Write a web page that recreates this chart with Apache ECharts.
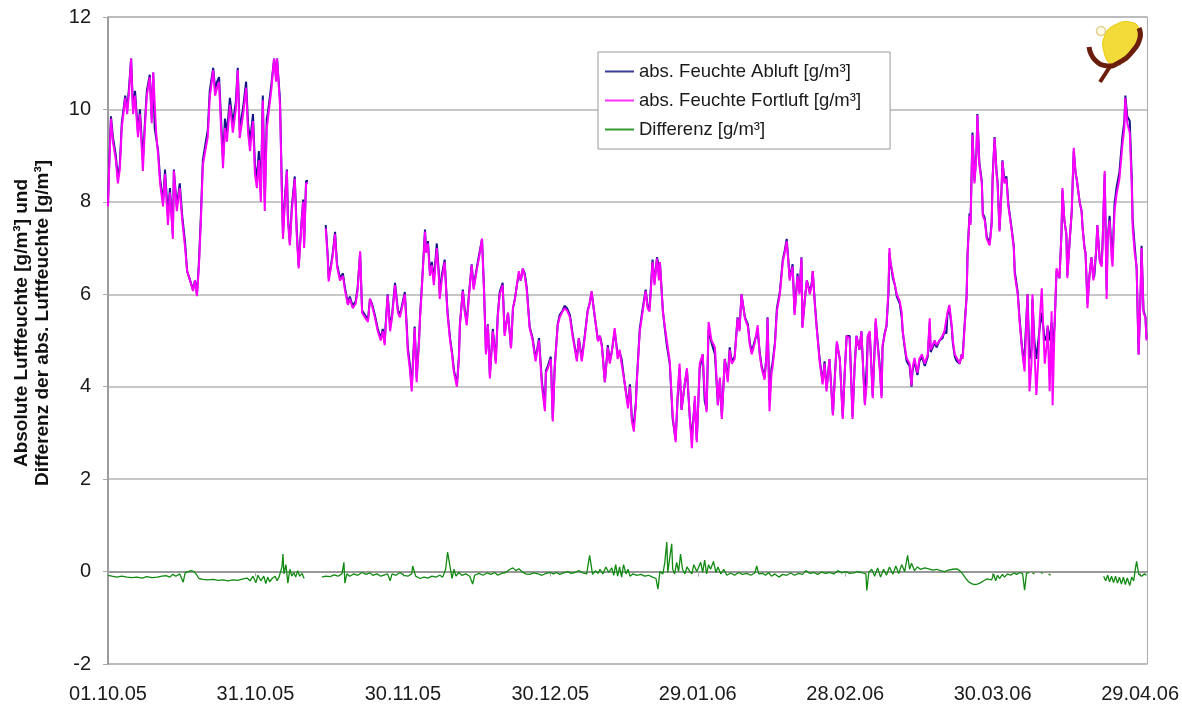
<!DOCTYPE html>
<html>
<head>
<meta charset="utf-8">
<script src="https://cdn.jsdelivr.net/npm/echarts@6/dist/echarts.min.js"></script>
<style>
html,body{margin:0;padding:0;background:#fff;}
#chart{width:1182px;height:704px;}
</style>
</head>
<body>
<div id="chart"></div>
<script>
// x tick labels (one every 30 days starting 01.10.05)
const xTickLabels = ['01.10.05','31.10.05','30.11.05','30.12.05','29.01.06','28.02.06','30.03.06','29.04.06'];
const seriesNames = ['abs. Feuchte Abluft [g/m³]','abs. Feuchte Fortluft [g/m³]','Differenz [g/m³]'];
const yTitle = 'Absolute Luftfeuchte [g/m³] und\nDifferenz der abs. Luftfeuchte [g/m³]';

// readings: [days since 01.10.05, g/m³]
const fortluft = [
[0.0,7.9],[0.2,8.6],[0.6,9.8],[1.0,9.3],[1.6,8.9],[2.0,8.4],[2.4,8.7],[2.8,9.6],[3.5,10.25],[3.9,9.9],[4.3,10.4],[4.7,11.1],[5.1,9.9],[5.5,10.3],[6.1,9.4],[6.5,9.9],[7.1,8.67],[7.5,9.6],[7.9,10.3],[8.5,10.7],[8.9,9.7],[9.2,10.8],[9.8,9.5],[10.2,9.0],[10.6,8.4],[11.2,7.9],[11.6,8.6],[12.2,7.5],[12.6,8.2],[13.2,7.2],[13.4,8.67],[14.0,7.8],[14.6,8.3],[15.1,7.6],[15.7,7.0],[16.1,6.5],[16.7,6.3],[17.3,6.07],[17.7,6.3],[18.1,5.96],[18.5,6.6],[18.9,7.6],[19.3,8.8],[19.9,9.17],[20.3,9.4],[20.7,10.25],[21.4,10.85],[21.8,10.3],[22.2,10.47],[22.6,10.6],[23.0,9.6],[23.4,8.73],[23.8,9.6],[24.2,9.3],[24.8,10.1],[25.4,9.5],[26.0,10.0],[26.4,10.85],[26.8,9.38],[27.5,9.9],[28.1,10.47],[28.5,9.5],[28.9,9.1],[29.5,9.75],[29.9,8.6],[30.3,8.3],[30.7,8.9],[31.1,8.0],[31.5,10.2],[31.9,7.8],[32.3,9.6],[32.5,9.75],[33.2,10.4],[33.8,11.1],[34.2,10.6],[34.4,11.1],[35.0,10.1],[35.4,8.1],[35.6,7.2],[36.0,8.0],[36.4,8.67],[36.6,7.6],[37.0,7.06],[37.4,7.8],[38.0,8.5],[38.4,7.3],[38.8,6.56],[39.3,7.4],[39.7,8.0],[39.9,7.0],[40.3,8.4],[40.7,8.4],[42.5,null],
[44.3,7.43],[44.7,6.8],[44.9,6.28],[45.4,6.6],[45.8,6.9],[46.2,7.3],[46.6,6.6],[47.2,6.3],[47.8,6.4],[48.2,6.1],[48.8,5.77],[49.2,5.9],[49.8,5.7],[50.4,5.8],[50.8,6.1],[51.3,6.93],[51.7,5.6],[52.3,5.5],[52.9,5.4],[53.3,5.9],[53.7,5.77],[54.3,5.5],[54.9,5.2],[55.5,5.0],[55.9,5.2],[56.3,4.9],[56.5,5.3],[56.9,5.98],[57.4,5.2],[57.8,5.5],[58.4,6.2],[59.0,5.6],[59.4,5.5],[60.0,5.8],[60.4,6.0],[60.8,5.2],[61.0,4.76],[61.4,4.4],[61.8,3.9],[62.2,4.8],[62.4,5.27],[62.8,4.1],[63.3,5.0],[63.5,5.5],[63.9,6.2],[64.5,7.36],[64.7,6.9],[65.1,7.1],[65.5,6.4],[65.9,6.63],[66.3,6.2],[66.9,7.0],[67.3,6.4],[67.5,5.9],[67.9,6.3],[68.5,6.7],[68.9,5.9],[69.1,5.55],[69.6,5.0],[70.0,4.7],[70.4,4.3],[71.0,4.0],[71.4,4.6],[71.6,5.33],[72.2,6.07],[72.6,5.6],[73.0,5.33],[73.4,5.9],[74.0,6.63],[74.4,6.1],[75.0,6.5],[75.5,6.8],[76.1,7.2],[76.5,6.1],[76.9,4.7],[77.3,5.33],[77.7,4.18],[78.3,5.2],[78.9,4.5],[79.3,5.5],[79.7,6.0],[80.3,6.2],[80.7,5.1],[81.4,5.6],[82.0,4.83],[82.4,5.7],[82.8,5.9],[83.2,6.2],[83.6,6.5],[84.0,6.3],[84.4,6.56],[84.8,6.4],[85.2,6.1],[85.8,5.27],[86.4,5.0],[87.0,4.55],[87.7,5.0],[88.3,4.0],[88.9,3.47],[89.1,4.3],[89.5,4.4],[90.1,4.6],[90.5,3.25],[90.9,4.4],[91.5,5.33],[91.9,5.5],[92.5,5.63],[92.9,5.7],[93.4,5.65],[94.0,5.5],[94.6,5.05],[95.0,4.8],[95.4,4.55],[95.8,5.05],[96.4,4.55],[97.0,5.05],[97.6,5.63],[98.0,5.8],[98.4,6.07],[99.0,5.55],[99.7,4.98],[100.1,5.1],[100.5,4.85],[101.1,4.1],[101.7,4.85],[102.1,4.5],[102.5,4.75],[103.1,5.27],[103.7,4.6],[104.1,4.8],[104.5,4.5],[105.1,4.1],[105.8,3.53],[106.2,4.0],[106.6,3.25],[107.0,3.03],[107.4,3.6],[107.6,4.1],[108.2,5.2],[108.8,5.63],[109.4,6.07],[109.8,5.7],[110.2,5.63],[110.8,6.7],[111.2,6.2],[111.7,6.77],[112.1,6.3],[112.3,6.7],[112.9,5.63],[113.3,5.3],[113.7,5.27],[114.3,4.55],[114.9,3.38],[115.5,2.8],[115.9,3.8],[116.3,4.5],[116.7,3.5],[117.4,4.1],[117.8,4.4],[118.4,3.3],[118.8,2.67],[119.4,3.8],[119.8,2.8],[120.4,4.5],[121.0,4.7],[121.4,3.9],[121.8,3.45],[122.2,5.4],[122.8,5.0],[123.5,4.85],[124.1,3.6],[124.5,4.2],[124.9,3.3],[125.5,4.6],[126.1,4.1],[126.5,4.8],[126.9,4.5],[127.5,4.6],[128.1,5.48],[128.5,5.2],[128.9,6.0],[129.6,5.48],[130.2,5.3],[130.6,4.9],[131.0,4.7],[131.6,4.95],[132.2,5.33],[132.6,4.7],[133.0,4.4],[133.6,4.15],[134.0,4.7],[134.2,5.48],[134.6,3.47],[135.0,4.3],[135.2,4.4],[135.7,4.9],[136.1,5.63],[136.7,6.0],[137.3,6.7],[137.7,6.9],[138.1,7.15],[138.5,6.6],[138.7,6.3],[139.3,6.6],[139.7,5.55],[140.1,6.1],[140.3,6.4],[140.7,6.0],[141.1,6.78],[141.3,5.27],[141.8,5.9],[142.2,6.3],[142.8,6.0],[143.2,6.2],[143.4,6.5],[143.8,5.8],[144.2,5.27],[144.8,4.55],[145.4,4.05],[145.8,4.5],[146.2,3.9],[146.8,4.6],[147.5,3.38],[147.9,4.2],[148.3,4.98],[148.9,4.6],[149.5,3.3],[149.9,4.3],[150.3,5.1],[150.9,5.05],[151.5,3.3],[151.9,4.4],[152.3,5.1],[152.9,4.8],[153.3,5.2],[154.0,3.6],[154.4,4.1],[154.6,5.1],[155.0,5.2],[155.4,4.2],[155.6,3.75],[156.2,5.48],[156.6,4.9],[157.0,4.4],[157.4,3.75],[157.6,4.9],[158.0,5.1],[158.4,5.33],[158.8,6.1],[159.0,7.0],[159.2,6.7],[159.7,6.42],[160.1,6.2],[160.5,6.0],[161.1,5.85],[161.5,5.6],[161.7,5.2],[162.1,4.9],[162.5,4.62],[163.1,4.5],[163.5,4.03],[163.7,4.4],[164.1,4.62],[164.5,4.4],[164.7,4.3],[165.1,4.6],[165.6,4.7],[166.2,4.5],[166.8,4.7],[167.2,5.48],[167.4,4.8],[167.8,4.8],[168.2,5.0],[168.6,4.9],[169.2,5.0],[169.8,5.1],[170.2,5.2],[170.6,5.2],[170.8,5.6],[171.2,5.77],[171.7,5.3],[171.9,5.0],[172.3,4.7],[172.7,4.62],[173.3,4.5],[173.7,4.7],[173.9,4.6],[174.3,5.3],[174.7,5.92],[174.9,6.85],[175.3,7.7],[175.5,7.5],[175.9,9.45],[176.3,8.4],[176.7,9.0],[176.9,9.88],[177.3,8.8],[177.8,8.4],[178.0,7.7],[178.4,7.6],[178.8,7.2],[179.4,7.06],[179.8,7.5],[180.0,8.5],[180.4,9.38],[180.8,8.6],[181.0,8.4],[181.4,7.36],[181.8,8.2],[182.0,8.88],[182.4,8.4],[182.8,8.5],[183.2,7.9],[183.9,7.36],[184.3,7.0],[184.5,6.42],[185.1,6.0],[185.5,5.4],[185.9,4.9],[186.3,4.5],[186.5,4.33],[186.9,5.5],[187.1,6.0],[187.5,3.9],[187.9,4.5],[188.1,6.0],[188.5,4.8],[188.9,3.82],[189.3,4.6],[189.6,5.48],[190.0,6.13],[190.4,5.0],[190.6,4.5],[191.0,4.9],[191.2,5.33],[191.6,3.9],[192.0,5.63],[192.2,3.6],[192.6,5.3],[193.0,6.56],[193.6,6.35],[194.0,7.3],[194.2,8.3],[194.6,7.6],[195.0,7.3],[195.2,6.35],[195.7,7.2],[196.1,7.8],[196.5,9.17],[196.9,8.6],[197.1,8.5],[197.7,8.0],[198.1,7.8],[198.3,7.43],[198.7,7.0],[198.9,6.9],[199.3,5.7],[199.7,6.4],[200.1,6.8],[200.5,6.3],[200.7,6.3],[201.1,7.0],[201.3,7.5],[201.8,6.7],[202.2,6.6],[202.4,7.2],[202.8,8.67],[203.2,5.9],[203.4,7.2],[203.8,7.6],[204.2,6.8],[204.4,6.6],[204.8,7.8],[205.2,8.15],[205.8,8.5],[206.4,9.23],[206.8,9.6],[207.0,10.25],[207.4,9.7],[207.9,9.5],[208.3,8.4],[208.5,7.43],[208.9,6.9],[209.3,6.6],[209.7,4.7],[210.1,6.0],[210.3,7.0],[210.7,5.6],[211.1,5.5],[211.3,5.0]
];

const abluft = [
[0.0,7.95],[0.2,8.7],[0.6,9.85],[1.0,9.4],[1.6,9.0],[2.0,8.5],[2.4,8.8],[2.8,9.7],[3.5,10.3],[3.9,10.0],[4.3,10.5],[4.7,11.1],[5.1,10.0],[5.5,10.4],[6.1,9.5],[6.5,10.0],[7.1,8.9],[7.5,9.7],[7.9,10.4],[8.5,10.75],[8.9,9.8],[9.2,10.8],[9.5,9.6],[10.2,9.1],[10.6,8.5],[11.2,8.0],[11.6,8.7],[12.2,7.7],[12.6,8.3],[13.2,7.3],[13.4,8.7],[14.0,7.9],[14.6,8.4],[15.1,7.7],[15.7,7.1],[16.1,6.5],[16.7,6.3],[17.3,6.1],[17.7,6.3],[18.1,6.0],[18.5,6.7],[18.9,7.7],[19.3,8.9],[19.9,9.3],[20.3,9.55],[20.7,10.4],[21.4,10.9],[21.8,10.45],[22.2,10.6],[22.6,10.7],[23.0,9.8],[23.4,8.9],[23.8,9.8],[24.2,9.5],[24.8,10.25],[25.4,9.7],[26.0,10.15],[26.4,10.9],[26.8,9.55],[27.5,10.05],[28.1,10.6],[28.5,9.7],[28.9,9.3],[29.5,9.9],[29.9,8.8],[30.3,8.5],[30.7,9.1],[31.1,8.2],[31.5,10.3],[31.9,8.0],[32.3,9.8],[32.5,9.9],[33.2,10.5],[33.8,11.1],[34.2,10.7],[34.4,11.1],[35.0,10.2],[35.4,8.2],[35.6,7.3],[36.0,8.1],[36.4,8.7],[36.6,7.7],[37.0,7.1],[37.4,7.9],[38.0,8.55],[38.4,7.4],[38.8,6.6],[39.3,7.45],[39.7,8.05],[39.9,7.1],[40.3,8.45],[40.7,8.45],[42.5,null],
[44.3,7.5],[44.7,6.85],[44.9,6.35],[45.4,6.65],[45.8,6.95],[46.2,7.35],[46.6,6.65],[47.2,6.35],[47.8,6.45],[48.2,6.15],[48.8,5.8],[49.2,5.95],[49.8,5.75],[50.4,5.85],[50.8,6.15],[51.3,6.9],[51.7,5.65],[52.3,5.55],[52.9,5.45],[53.3,5.9],[53.7,5.8],[54.3,5.55],[54.9,5.25],[55.5,5.05],[55.9,5.25],[56.3,4.95],[56.5,5.35],[56.9,6.0],[57.4,5.3],[57.8,5.55],[58.4,6.25],[59.0,5.65],[59.4,5.55],[60.0,5.85],[60.4,6.05],[60.8,5.3],[61.0,4.85],[61.4,4.5],[61.8,4.0],[62.2,4.85],[62.4,5.3],[62.8,4.2],[63.3,5.05],[63.5,5.55],[63.9,6.25],[64.5,7.4],[64.7,6.95],[65.1,7.15],[65.5,6.5],[65.9,6.7],[66.3,6.3],[66.9,7.1],[67.3,6.5],[67.5,6.0],[67.9,6.4],[68.5,6.75],[68.9,5.95],[69.1,5.6],[69.6,5.05],[70.0,4.75],[70.4,4.35],[71.0,4.05],[71.4,4.65],[71.6,5.35],[72.2,6.1],[72.6,5.65],[73.0,5.4],[73.4,5.95],[74.0,6.65],[74.4,6.15],[75.0,6.55],[75.5,6.85],[76.1,7.2],[76.5,6.15],[76.9,4.75],[77.3,5.35],[77.7,4.25],[78.3,5.25],[78.9,4.55],[79.3,5.55],[79.7,6.05],[80.3,6.25],[80.7,5.15],[81.4,5.6],[82.0,4.85],[82.4,5.7],[82.8,5.9],[83.2,6.2],[83.6,6.45],[84.0,6.3],[84.4,6.55],[84.8,6.45],[85.2,6.15],[85.8,5.3],[86.4,5.05],[87.0,4.6],[87.7,5.05],[88.3,4.1],[88.9,3.55],[89.1,4.35],[89.5,4.45],[90.1,4.65],[90.5,3.3],[90.9,4.45],[91.5,5.35],[91.9,5.55],[92.5,5.65],[92.9,5.75],[93.4,5.7],[94.0,5.55],[94.6,5.1],[95.0,4.85],[95.4,4.6],[95.8,5.05],[96.4,4.6],[97.0,5.1],[97.6,5.65],[98.0,5.8],[98.4,6.05],[99.0,5.55],[99.7,5.0],[100.1,5.1],[100.5,4.9],[101.1,4.1],[101.7,4.9],[102.1,4.55],[102.5,4.75],[103.1,5.2],[103.7,4.7],[104.1,4.75],[104.5,4.6],[105.1,4.1],[105.8,3.6],[106.2,4.05],[106.6,3.3],[107.0,3.2],[107.4,3.65],[107.6,4.15],[108.2,5.25],[108.8,5.7],[109.4,6.1],[109.8,5.75],[110.2,5.7],[110.8,6.75],[111.2,6.25],[111.7,6.8],[112.1,6.6],[112.3,6.7],[112.9,5.65],[113.3,5.25],[113.7,4.9],[114.3,4.5],[114.9,3.3],[115.5,2.85],[115.9,3.75],[116.3,4.4],[116.7,3.5],[117.4,4.1],[117.8,4.35],[118.4,3.3],[118.8,2.9],[119.4,3.7],[119.8,2.85],[120.4,4.4],[121.0,4.7],[121.4,3.7],[121.8,3.5],[122.2,5.25],[122.8,4.95],[123.5,4.7],[124.1,3.6],[124.5,4.15],[124.9,3.35],[125.5,4.6],[126.1,4.2],[126.5,4.85],[126.9,4.55],[127.5,4.65],[128.1,5.5],[128.5,5.25],[128.9,6.0],[129.6,5.5],[130.2,5.35],[130.6,4.95],[131.0,4.75],[131.6,5.0],[132.2,5.2],[132.6,4.75],[133.0,4.45],[133.6,4.2],[134.0,4.7],[134.2,5.5],[134.6,3.7],[135.0,4.4],[135.2,4.5],[135.7,4.95],[136.1,5.7],[136.7,6.05],[137.3,6.75],[137.7,6.95],[138.1,7.2],[138.5,6.65],[138.7,6.35],[139.3,6.65],[139.7,5.6],[140.1,6.15],[140.3,6.45],[140.7,6.05],[141.1,6.8],[141.3,5.3],[141.8,5.9],[142.2,6.3],[142.8,6.05],[143.2,6.25],[143.4,6.5],[143.8,5.85],[144.2,5.3],[144.8,4.6],[145.4,4.1],[145.8,4.55],[146.2,3.95],[146.8,4.6],[147.5,3.4],[147.9,4.25],[148.3,4.95],[148.9,4.6],[149.5,3.35],[149.9,4.3],[150.3,5.1],[150.9,5.1],[151.5,3.35],[151.9,4.4],[152.3,5.1],[152.9,4.8],[153.3,5.2],[154.0,3.65],[154.4,4.5],[154.6,5.1],[155.0,5.15],[155.4,4.3],[155.6,3.8],[156.2,5.4],[156.6,4.95],[157.0,4.5],[157.4,3.8],[157.6,4.85],[158.0,5.15],[158.4,5.3],[158.8,6.0],[159.0,6.9],[159.2,6.7],[159.7,6.35],[160.1,6.2],[160.5,5.95],[161.1,5.8],[161.5,5.5],[161.7,5.2],[162.1,4.85],[162.5,4.55],[163.1,4.45],[163.5,4.0],[163.7,4.35],[164.1,4.55],[164.5,4.35],[164.7,4.25],[165.1,4.55],[165.6,4.65],[166.2,4.45],[166.8,4.65],[167.2,5.4],[167.4,4.75],[167.8,4.75],[168.2,4.95],[168.6,4.85],[169.2,5.0],[169.8,5.05],[170.2,5.2],[170.6,5.15],[170.8,5.55],[171.2,5.7],[171.7,5.25],[171.9,4.95],[172.3,4.65],[172.7,4.55],[173.3,4.5],[173.7,4.7],[173.9,4.65],[174.3,5.35],[174.7,5.95],[174.9,6.9],[175.3,7.75],[175.5,7.55],[175.9,9.5],[176.3,8.45],[176.7,9.05],[176.9,9.9],[177.3,8.85],[177.8,8.45],[178.0,7.75],[178.4,7.65],[178.8,7.25],[179.4,7.1],[179.8,7.55],[180.0,8.55],[180.4,9.4],[180.8,8.65],[181.0,8.45],[181.4,7.4],[181.8,8.25],[182.0,8.9],[182.4,8.45],[182.8,8.55],[183.2,7.95],[183.9,7.4],[184.3,7.05],[184.5,6.5],[185.1,6.05],[185.5,5.45],[185.9,4.95],[186.3,4.55],[186.5,4.7],[186.9,5.55],[187.1,6.0],[187.5,4.6],[187.9,4.8],[188.1,5.9],[188.5,5.0],[188.9,4.6],[189.3,5.0],[189.6,5.3],[190.0,5.6],[190.4,5.2],[190.6,5.0],[191.0,5.1],[191.2,5.3],[191.6,5.0],[192.0,5.4],[192.2,4.9],[192.6,5.3],[193.0,6.5],[193.6,6.35],[194.0,7.3],[194.2,8.25],[194.6,7.6],[195.0,7.3],[195.2,6.4],[195.7,7.2],[196.1,7.8],[196.5,9.1],[196.9,8.6],[197.1,8.5],[197.7,8.0],[198.1,7.8],[198.3,7.45],[198.7,7.0],[198.9,6.9],[199.3,5.8],[199.7,6.4],[200.1,6.8],[200.5,6.35],[200.7,6.4],[201.1,7.0],[201.3,7.5],[201.8,6.75],[202.2,6.65],[202.4,7.2],[202.8,8.6],[203.2,6.1],[203.4,7.2],[203.8,7.7],[204.2,6.95],[204.4,6.8],[204.8,7.95],[205.2,8.3],[205.8,8.65],[206.4,9.4],[206.8,9.75],[207.0,10.3],[207.4,9.85],[207.9,9.75],[208.3,8.55],[208.5,7.6],[208.9,7.05],[209.3,6.55],[209.7,4.7],[210.1,6.0],[210.3,7.05],[210.7,5.65],[211.1,5.5],[211.3,5.05]
];

const differenz = [
[0.0,-0.08],[0.8,-0.1],[1.8,-0.12],[2.8,-0.1],[3.9,-0.12],[4.9,-0.13],[5.9,-0.12],[6.9,-0.14],[7.9,-0.11],[8.9,-0.13],[10.0,-0.12],[11.0,-0.1],[11.8,-0.09],[12.6,-0.12],[13.2,-0.06],[13.8,-0.1],[14.6,-0.05],[15.3,-0.23],[15.7,-0.03],[16.3,0.0],[16.9,0.02],[17.5,0.0],[17.9,-0.05],[18.5,-0.15],[19.3,-0.17],[20.3,-0.18],[21.4,-0.17],[22.4,-0.19],[23.4,-0.18],[24.4,-0.2],[25.4,-0.18],[26.4,-0.19],[27.5,-0.16],[28.3,-0.14],[28.9,-0.2],[29.5,-0.1],[30.1,-0.24],[30.5,-0.08],[31.1,-0.2],[31.7,-0.1],[32.1,-0.26],[32.5,-0.12],[32.9,-0.22],[33.4,-0.15],[34.0,-0.1],[34.4,-0.2],[34.8,-0.12],[35.4,0.1],[35.6,0.38],[35.8,-0.05],[36.2,0.15],[36.6,-0.25],[37.0,0.05],[37.4,-0.1],[37.8,-0.02],[38.2,-0.12],[38.6,0.02],[39.0,-0.1],[39.5,-0.04],[39.9,-0.15],[42.0,null],
[43.5,-0.12],[44.3,-0.1],[45.2,-0.11],[46.0,-0.07],[46.8,-0.1],[47.6,-0.05],[48.0,0.2],[48.2,-0.25],[48.6,-0.05],[49.2,-0.1],[50.0,-0.05],[50.8,-0.08],[51.7,-0.02],[52.5,-0.06],[53.3,-0.03],[53.9,-0.08],[54.7,-0.05],[55.5,-0.1],[56.3,-0.07],[56.9,-0.05],[57.4,-0.2],[57.8,-0.05],[58.6,-0.08],[59.4,-0.02],[60.2,-0.08],[61.0,-0.1],[61.8,-0.05],[62.0,0.12],[62.6,-0.1],[63.5,-0.15],[64.3,-0.12],[65.1,-0.14],[65.9,-0.1],[66.7,-0.12],[67.5,-0.08],[68.1,-0.12],[68.7,0.05],[69.1,0.42],[69.6,0.1],[70.0,-0.15],[70.4,0.05],[70.8,-0.1],[71.4,-0.02],[72.0,-0.08],[72.8,-0.05],[73.6,-0.1],[74.2,-0.27],[74.6,-0.08],[75.5,-0.04],[76.3,-0.08],[77.1,-0.03],[77.9,-0.06],[78.7,-0.02],[79.3,-0.08],[80.1,-0.04],[80.9,-0.02],[81.8,0.05],[82.4,0.08],[83.0,0.02],[83.6,0.06],[84.2,0.0],[85.0,-0.05],[85.8,-0.06],[86.6,-0.03],[87.5,-0.05],[88.3,-0.08],[89.1,-0.04],[89.9,-0.02],[90.7,-0.05],[91.3,-0.02],[91.9,-0.06],[92.7,-0.03],[93.6,0.0],[94.2,-0.04],[95.0,-0.02],[95.8,0.02],[96.6,-0.03],[97.4,-0.05],[98.0,0.35],[98.6,-0.06],[99.2,0.02],[99.7,-0.04],[100.1,0.05],[100.7,-0.05],[101.3,0.1],[101.9,-0.02],[102.5,0.08],[102.9,-0.08],[103.3,0.15],[103.7,-0.1],[104.1,0.1],[104.5,-0.12],[104.9,0.15],[105.4,-0.05],[105.8,0.05],[106.2,-0.1],[106.8,-0.05],[107.6,-0.08],[108.4,-0.06],[109.2,-0.1],[110.0,-0.08],[110.8,-0.12],[111.5,-0.15],[111.9,-0.38],[112.3,0.0],[112.9,-0.05],[113.3,0.2],[113.7,0.64],[113.9,-0.02],[114.3,0.3],[114.7,0.6],[114.9,0.05],[115.3,-0.05],[115.7,0.2],[116.1,0.0],[116.5,0.38],[116.9,0.05],[117.4,-0.05],[117.8,0.1],[118.4,0.0],[118.8,-0.05],[119.2,0.15],[119.8,0.0],[120.2,0.1],[120.6,0.2],[121.0,-0.02],[121.4,0.25],[121.8,-0.05],[122.2,0.15],[122.6,0.05],[123.2,0.22],[123.7,-0.02],[124.1,0.1],[124.7,-0.05],[125.3,0.05],[125.9,-0.08],[126.7,-0.03],[127.5,-0.08],[128.3,-0.02],[129.1,-0.06],[130.0,-0.04],[130.8,-0.08],[131.6,-0.03],[132.0,0.12],[132.4,-0.05],[133.2,-0.04],[133.8,-0.08],[134.4,-0.02],[135.0,-0.1],[135.7,-0.05],[136.5,-0.12],[137.3,-0.06],[138.1,-0.08],[138.9,-0.03],[139.7,-0.08],[140.5,-0.04],[141.3,-0.06],[142.0,0.02],[142.8,-0.04],[143.6,-0.02],[144.4,-0.06],[145.2,-0.01],[146.0,-0.04],[146.8,-0.02],[147.7,-0.05],[148.5,0.02],[149.3,-0.03],[150.1,0.0],[150.9,-0.04],[151.7,-0.03],[152.5,0.0],[153.3,-0.02],[154.2,-0.05],[154.4,-0.41],[154.8,-0.02],[155.4,0.05],[156.0,-0.1],[156.6,0.08],[157.2,-0.12],[157.8,0.05],[158.4,-0.08],[159.0,0.1],[159.7,-0.06],[160.3,0.12],[160.9,-0.04],[161.5,0.15],[162.1,0.0],[162.7,0.35],[163.1,0.05],[163.5,0.18],[164.1,0.02],[164.7,0.1],[165.3,0.05],[166.2,0.08],[167.0,0.06],[167.8,0.03],[168.6,0.05],[169.4,0.02],[170.2,0.0],[171.0,0.03],[171.9,0.05],[172.7,0.06],[173.3,0.02],[173.9,-0.05],[174.5,-0.14],[175.1,-0.22],[175.7,-0.26],[176.3,-0.28],[176.9,-0.27],[177.6,-0.24],[178.2,-0.2],[178.8,-0.16],[179.2,-0.12],[179.8,-0.18],[180.2,-0.05],[180.6,-0.2],[181.0,-0.08],[181.4,-0.15],[182.0,-0.06],[182.4,-0.12],[183.0,-0.05],[183.7,-0.08],[184.3,-0.03],[184.9,-0.06],[185.5,-0.02],[186.1,-0.05],[186.5,-0.4],[186.9,-0.04],[187.5,-0.02],[187.8,null],[188.1,-0.03],[188.5,-0.05],[189.0,null],[189.8,-0.02],[190.2,-0.04],[190.7,null],[191.4,-0.05],[191.8,-0.08],[192.5,null],
[202.6,-0.1],[203.0,-0.2],[203.4,-0.08],[203.8,-0.22],[204.2,-0.1],[204.6,-0.24],[205.0,-0.1],[205.4,-0.25],[205.8,-0.12],[206.2,-0.27],[206.6,-0.12],[207.0,-0.28],[207.4,-0.14],[207.9,-0.3],[208.3,-0.12],[208.7,-0.2],[209.1,0.1],[209.3,0.22],[209.7,-0.05],[210.3,-0.1],[210.9,-0.05],[211.3,-0.08]
];

const FONT = '"Liberation Sans", Arial, sans-serif';
const chart = echarts.init(document.getElementById('chart'), null, {renderer: 'canvas'});

chart.setOption({
  animation: false,
  backgroundColor: '#ffffff',
  grid: {left: 108, right: 34, top: 17, bottom: 39, show: true, borderColor: '#a8a8a8', borderWidth: 1, containLabel: false},
  legend: {
    orient: 'vertical', left: 598, top: 52,
    backgroundColor: '#ffffff', borderColor: '#9a9a9a', borderWidth: 1,
    padding: [10, 29, 10, 7], itemGap: 10, itemWidth: 29, itemHeight: 2, icon: 'rect',
    textStyle: {fontFamily: FONT, fontSize: 18.5, color: '#1a1a1a', padding: [0, 0, 0, 0]},
    data: seriesNames
  },
  xAxis: {
    type: 'value', min: 0, max: 211.5, interval: 30,
    axisLine: {show: true, lineStyle: {color: '#8a8a8a', width: 1.5}},
    axisTick: {show: true, length: 5, lineStyle: {color: '#aaaaaa'}},
    splitLine: {show: false},
    axisLabel: {
      fontFamily: FONT, fontSize: 20, color: '#1a1a1a', margin: 20,
      showMaxLabel: false,
      formatter: function (v) { return (Math.abs(v % 30) < 1e-6) ? xTickLabels[Math.round(v / 30)] : ''; }
    }
  },
  yAxis: {
    type: 'value', min: -2, max: 12, interval: 2,
    axisLine: {show: true, lineStyle: {color: '#8a8a8a', width: 1.5}},
    axisTick: {show: true, length: 5, lineStyle: {color: '#aaaaaa'}},
    splitLine: {show: true, lineStyle: {color: '#b4b4b4', width: 1.5}},
    axisLabel: {fontFamily: FONT, fontSize: 20, color: '#1a1a1a', margin: 17}
  },
  graphic: [
    {
      type: 'text', x: 32, y: 323, rotation: Math.PI / 2,
      style: {text: yTitle, font: 'bold 19px ' + FONT, fill: '#111111', align: 'center', verticalAlign: 'middle', lineHeight: 21}
    },
    {type: 'polygon', shape: {points: [[1105,35],[1115,25],[1130,22],[1139,29],[1136,45],[1124,58],[1112,64],[1104,52]], smooth: 0.5},
     style: {fill: '#f3dc3a', stroke: '#e8c800', lineWidth: 1}},
    {type: 'polyline', shape: {points: [[1089,47],[1095,60],[1108,66],[1120,62],[1132,52],[1140,38],[1139,28]], smooth: 0.5},
     style: {fill: null, stroke: '#6b1e0c', lineWidth: 5}},
    {type: 'line', shape: {x1: 1111, y1: 65, x2: 1100, y2: 82}, style: {stroke: '#6b1e0c', lineWidth: 4}},
    {type: 'circle', shape: {cx: 1101, cy: 31, r: 4.5}, style: {fill: '#fffbe6', stroke: '#e0cf8a', lineWidth: 1.5}}
  ],
  series: [
    {name: seriesNames[0], type: 'line', data: abluft, symbol: 'none', connectNulls: false, z: 2,
     lineStyle: {color: '#14148a', width: 2}, itemStyle: {color: '#3a3a9a'}},
    {name: seriesNames[1], type: 'line', data: fortluft, symbol: 'none', connectNulls: false, z: 3,
     lineStyle: {color: '#ff00ff', width: 2}, itemStyle: {color: '#ff33ff'}},
    {name: seriesNames[2], type: 'line', data: differenz, symbol: 'none', connectNulls: false, z: 4,
     lineStyle: {color: '#118a11', width: 1.3}, itemStyle: {color: '#339933'}}
  ]
});
</script>
</body>
</html>
